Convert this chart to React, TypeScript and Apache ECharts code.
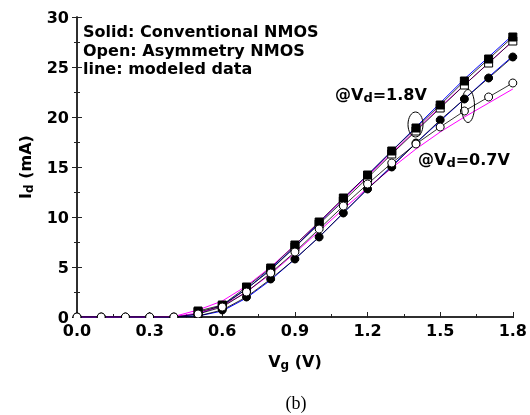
import React, { useEffect, useRef } from "react";
import * as echarts from "echarts";

// Gate voltage (V)
const VG = [0, 0.1, 0.2, 0.3, 0.4, 0.5, 0.6, 0.7, 0.8, 0.9, 1.0, 1.1, 1.2, 1.3, 1.4, 1.5, 1.6, 1.7, 1.8];

// Measured drain current (mA); null = no marker visible
const convVd18 = [null, null, null, null, null, 0.6, 1.2, 3.0, 4.9, 7.2, 9.5, 11.9, 14.2, 16.6, 18.9, 21.2, 23.6, 25.8, 28.0];
const asymVd18 = [null, null, null, null, null, 0.5, 1.1, 2.8, 4.7, 7.0, 9.3, 11.6, 13.9, 16.3, 18.6, 20.9, 23.2, 25.4, 27.6];
const convVd07 = [0, 0, 0, 0, 0, 0.1, 0.7, 2.0, 3.8, 5.8, 8.0, 10.4, 12.8, 15.0, 17.4, 19.7, 21.8, 23.9, 26.0];
const asymVd07 = [0, 0, 0, 0, 0, 0.3, 1.0, 2.5, 4.4, 6.5, 8.8, 11.1, 13.3, 15.4, 17.3, 19.0, 20.6, 22.0, 23.4];

// Modeled drain current (mA)
const modelConv18 = [0, 0, 0, 0, 0, 0.3, 1.2, 2.8, 4.8, 7.0, 9.4, 11.8, 14.2, 16.6, 19.0, 21.4, 23.8, 26.0, 28.2];
const modelAsym18 = [0, 0, 0, 0, 0.05, 0.7, 1.6, 3.1, 5.0, 7.2, 9.5, 11.8, 14.1, 16.4, 18.7, 21.0, 23.2, 25.4, 27.6];
const modelConv07 = [0, 0, 0, 0, 0, 0.1, 0.6, 1.9, 3.7, 5.8, 8.0, 10.4, 12.8, 15.1, 17.4, 19.6, 21.8, 24.0, 26.1];
const modelAsym07 = [0, 0, 0, 0, 0.03, 0.4, 1.1, 2.5, 4.3, 6.4, 8.6, 10.8, 12.9, 14.9, 16.8, 18.5, 20.0, 21.4, 22.8];

const FONT = "DejaVu Sans";

const pts = (arr: (number | null)[]) => VG.map((v, i) => [v, arr[i]]);

export default function App() {
  const ref = useRef<HTMLDivElement>(null);
  useEffect(() => {
    if (!ref.current) return;
    const chart = echarts.init(ref.current, null, { renderer: "svg" });
    const axisLine = { show: true, lineStyle: { color: "#222", width: 1.5 } };
    const tick = { show: true, inside: true, length: 5, lineStyle: { color: "#222", width: 1 } };
    const minor = { show: true, splitNumber: 2, length: 3, lineStyle: { color: "#222", width: 1 } };
    const labelStyle = { fontFamily: FONT, fontWeight: "bold" as const, fontSize: 16, color: "#000" };
    const richName = {
      m: { fontFamily: FONT, fontWeight: "bold", fontSize: 16, lineHeight: 20, color: "#000" },
      s: { fontFamily: FONT, fontWeight: "bold", fontSize: 12, lineHeight: 10, verticalAlign: "bottom", color: "#000" },
    };
    const richAnno = {
      m: { fontFamily: FONT, fontWeight: "bold", fontSize: 16, lineHeight: 20, fill: "#000" },
      s: { fontFamily: FONT, fontWeight: "bold", fontSize: 13, lineHeight: 10, verticalAlign: "bottom", fill: "#000" },
    };

    const modelLine = (data: number[], color: string) => ({
      type: "line",
      data: pts(data),
      showSymbol: false,
      symbol: "none",
      lineStyle: { color, width: 1 },
      z: 2,
      silent: true,
    });
    const dataLine = (data: (number | null)[], symbol: string, filled: boolean, z: number) => ({
      type: "line",
      data: pts(data),
      symbol,
      symbolSize: 8,
      showAllSymbol: true,
      connectNulls: false,
      lineStyle: { color: "#000", width: 0.8 },
      itemStyle: { color: filled ? "#000" : "#fff", borderColor: "#000", borderWidth: 1 },
      z,
      silent: true,
    });
    const plainText = (text: string, y: number) => ({
      type: "text",
      x: 83,
      y,
      z: 20,
      style: { text, fontFamily: FONT, fontWeight: "bold", fontSize: 16, fill: "#000", verticalAlign: "middle" },
    });

    chart.setOption({
      animation: false,
      grid: { left: 77, right: 15, top: 17, bottom: 98 },
      xAxis: [
        {
          type: "value",
          min: 0,
          max: 1.8,
          interval: 0.3,
          axisLine,
          axisTick: tick,
          minorTick: minor,
          splitLine: { show: false },
          axisLabel: { ...labelStyle, margin: 5, formatter: (v: number) => v.toFixed(1) },
          name: "{m|V}{s|g}{m| (V)}",
          nameLocation: "middle",
          nameGap: 34,
          nameTextStyle: { rich: richName },
        },
        {
          type: "value",
          position: "top",
          min: 0,
          max: 1.8,
          interval: 0.3,
          axisLine,
          axisTick: tick,
          minorTick: minor,
          splitLine: { show: false },
          axisLabel: { show: false },
        },
      ],
      yAxis: [
        {
          type: "value",
          min: 0,
          max: 30,
          interval: 5,
          axisLine,
          axisTick: tick,
          minorTick: minor,
          splitLine: { show: false },
          axisLabel: { ...labelStyle, margin: 8 },
          name: "{m|I}{s|d}{m| (mA)}",
          nameLocation: "middle",
          nameGap: 42,
          nameTextStyle: { rich: richName },
        },
        {
          type: "value",
          position: "right",
          min: 0,
          max: 30,
          interval: 5,
          axisLine,
          axisTick: tick,
          minorTick: minor,
          splitLine: { show: false },
          axisLabel: { show: false },
        },
      ],
      series: [
        modelLine(modelConv18, "#0000ff"),
        modelLine(modelAsym18, "#ff00ff"),
        modelLine(modelConv07, "#0000ff"),
        modelLine(modelAsym07, "#ff00ff"),
        dataLine(asymVd18, "rect", false, 3),
        dataLine(convVd18, "rect", true, 4),
        dataLine(convVd07, "circle", true, 5),
        dataLine(asymVd07, "circle", false, 6),
      ],
      graphic: [
        // hides the part of the markers that falls below the bottom axis
        {
          type: "rect",
          shape: { x: 70, y: 318, width: 455, height: 5 },
          style: { fill: "#fff" },
          z: 50,
          silent: true,
        },
        plainText("Solid: Conventional NMOS", 31),
        plainText("Open: Asymmetry NMOS", 50),
        plainText("line: modeled data", 68),
        {
          type: "text",
          x: 335,
          y: 94,
          z: 20,
          style: { text: "{m|@V}{s|d}{m|=1.8V}", verticalAlign: "middle", rich: richAnno },
        },
        {
          type: "text",
          x: 418,
          y: 159,
          z: 20,
          style: { text: "{m|@V}{s|d}{m|=0.7V}", verticalAlign: "middle", rich: richAnno },
        },
        {
          type: "ellipse",
          shape: { cx: 415.5, cy: 124.5, rx: 7.5, ry: 12.5 },
          style: { fill: "none", stroke: "#000", lineWidth: 1 },
          z: 20,
        },
        {
          type: "ellipse",
          shape: { cx: 468, cy: 106, rx: 6.5, ry: 16.5 },
          style: { fill: "none", stroke: "#000", lineWidth: 1 },
          z: 20,
        },
        {
          type: "text",
          x: 296,
          y: 403,
          z: 20,
          style: { text: "(b)", fontFamily: "Liberation Serif", fontSize: 18, fill: "#000", align: "center", verticalAlign: "middle" },
        },
      ],
    });
    return () => chart.dispose();
  }, []);
  return <div ref={ref} style={{ position: "fixed", left: 0, top: 0, width: 530, height: 415 }} />;
}
